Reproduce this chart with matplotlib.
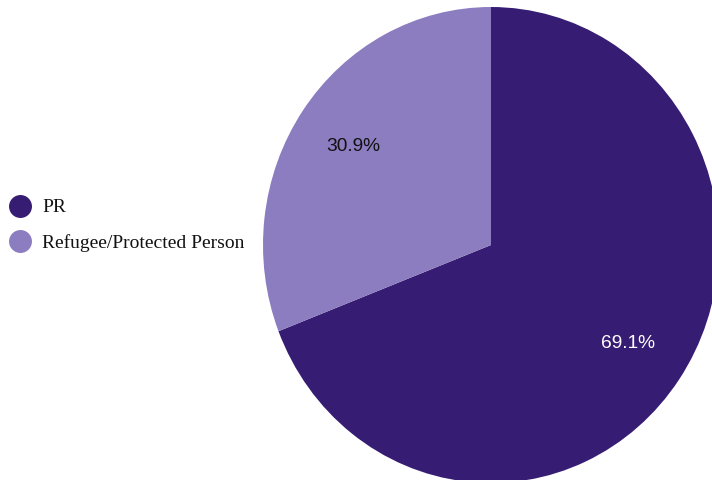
import matplotlib
matplotlib.use("Agg")
import matplotlib.pyplot as plt
from matplotlib.lines import Line2D

categories = ["PR", "Refugee/Protected Person"]
values = [69.1, 30.9]
colors = ["#361C73", "#8C7CC0"]
label_colors = ["white", "#111111"]

fig = plt.figure(figsize=(7.12, 4.8), dpi=100)
ax = fig.add_axes([0, 0, 1, 1])

wedges, texts, autotexts = ax.pie(
    values, colors=colors, startangle=90, counterclock=False,
    autopct="%.1f%%", pctdistance=0.73,
    wedgeprops=dict(linewidth=0),
    textprops=dict(family="Liberation Sans", fontsize=13.8),
)
for t, c in zip(autotexts, label_colors):
    t.set_color(c)

# center at pixel (491,245), rx=228, ry=238
ax.set_aspect("auto")
ax.set_xlim((0 - 491) / 228, (712 - 491) / 228)
ax.set_ylim((245 - 480) / 238, (245 - 0) / 238)
ax.axis("off")

handles = [Line2D([0], [0], marker="o", linestyle="none", markersize=15.5,
                  markerfacecolor=c, markeredgecolor=c) for c in colors]
leg = fig.legend(handles, categories, loc="upper left",
                 bbox_to_anchor=(0.0063, 1 - 193 / 480), frameon=False,
                 prop=dict(family="Liberation Serif", size=14),
                 handlelength=1.0, handletextpad=0.63, labelspacing=0.9,
                 borderaxespad=0, borderpad=0.3)
for t in leg.get_texts():
    t.set_color("#111111")

fig.savefig("out.png", dpi=100)
